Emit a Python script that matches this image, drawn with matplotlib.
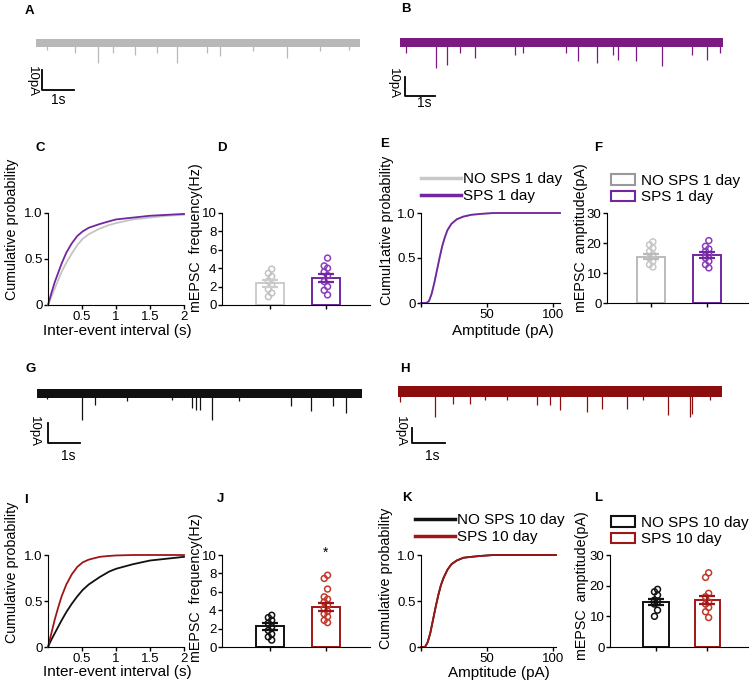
import numpy as np
import matplotlib
matplotlib.use("Agg")
import matplotlib.pyplot as plt
from matplotlib.lines import Line2D
from matplotlib.patches import Patch

plt.rcParams['font.family'] = ['Liberation Sans', 'DejaVu Sans']

W, H = 750, 695

# ---- colours
GRAY = '#c4c4c4'
PURPLE = '#7226a0'
BLACK = '#111111'
RED = '#a01616'

# ---- example traces: event times (s) and depths (pA)
trace_a_t = [0.33, 1.2, 1.92, 2.39, 3.06, 3.72, 4.34, 5.27, 5.68, 6.71, 7.74, 8.77, 9.65]
trace_a_d = [3.3, 5.0, 10.0, 5.0, 6.0, 5.0, 10.0, 5.0, 6.7, 4.0, 7.5, 4.0, 3.3]
trace_b_t = [0.2, 1.13, 1.44, 1.85, 2.31, 3.55, 3.8, 5.15, 5.5, 6.1, 6.6, 6.75, 7.3, 8.1, 9.05, 9.5, 9.9]
trace_b_d = [5.0, 12.5, 10.8, 5.0, 7.5, 6.0, 5.0, 5.0, 9.0, 10.0, 6.0, 8.3, 9.0, 11.7, 6.0, 8.3, 5.0]
trace_g_t = [0.3, 1.38, 1.79, 2.77, 4.16, 4.77, 4.88, 5.0, 5.39, 6.2, 7.8, 8.43, 9.1, 9.5]
trace_g_d = [3.0, 13.3, 5.8, 4.0, 3.3, 7.5, 8.3, 8.3, 13.3, 4.0, 6.7, 9.2, 6.7, 10.0]
trace_h_t = [0.06, 1.14, 1.71, 2.22, 2.69, 3.35, 4.28, 4.69, 5.0, 5.82, 6.29, 7.06, 7.57, 8.34, 9.0, 9.06, 9.63]
trace_h_d = [5.5, 13.0, 6.3, 6.3, 4.7, 4.7, 7.2, 7.2, 9.7, 10.5, 8.8, 8.8, 4.7, 12.2, 13.0, 11.3, 4.7]

# ---- cumulative curves (inter-event interval, s)
iei_x = [0, 0.05, 0.1, 0.15, 0.2, 0.27, 0.35, 0.43, 0.51, 0.6, 0.76, 0.9, 1.0, 1.25, 1.5, 1.75, 2.0]
iei_c_no = [0, 0.09, 0.18, 0.27, 0.36, 0.46, 0.56, 0.65, 0.72, 0.77, 0.83, 0.87, 0.89, 0.93, 0.95, 0.97, 0.98]
iei_c_sps = [0, 0.13, 0.25, 0.35, 0.45, 0.57, 0.67, 0.75, 0.80, 0.84, 0.88, 0.91, 0.93, 0.95, 0.97, 0.98, 0.99]
iei_i_no = [0, 0.08, 0.15, 0.22, 0.29, 0.38, 0.47, 0.55, 0.62, 0.68, 0.76, 0.82, 0.85, 0.90, 0.94, 0.96, 0.98]
iei_i_sps = [0, 0.15, 0.30, 0.43, 0.55, 0.68, 0.79, 0.87, 0.92, 0.95, 0.98, 0.99, 0.995, 1.0, 1.0, 1.0, 1.0]

# ---- cumulative curves (amplitude, pA)
amp_x = [0, 4, 6, 8, 10, 12, 14, 16, 18, 20, 23, 27, 32, 38, 45, 55, 70, 105]
amp_e = [0, 0, 0.02, 0.10, 0.22, 0.36, 0.50, 0.63, 0.73, 0.81, 0.88, 0.93, 0.96, 0.98, 0.99, 1.0, 1.0, 1.0]
amp_k_x = [0, 3, 5, 7, 9, 11, 13, 15, 17, 20, 23, 27, 32, 38, 45, 55, 70, 102]
amp_k = [0, 0, 0.05, 0.15, 0.29, 0.43, 0.56, 0.67, 0.75, 0.84, 0.90, 0.94, 0.97, 0.98, 0.99, 1.0, 1.0, 1.0]

# ---- bar graphs
freq1_mean = [2.36, 2.9]
freq1_sem = [0.35, 0.45]
freq1_no = [3.9, 3.45, 3.1, 2.6, 2.2, 1.7, 1.3, 0.9]
freq1_sps = [5.1, 4.25, 4.0, 3.6, 3.2, 2.55, 2.0, 1.6, 1.1]

amp1_mean = [15.5, 16.1]
amp1_sem = [0.8, 1.0]
amp1_no = [20.4, 19.4, 18.3, 17.2, 16.1, 15.0, 13.9, 12.8, 12.0]
amp1_sps = [20.8, 18.9, 18.0, 17.2, 16.1, 15.0, 13.9, 12.8, 11.7]

freq10_mean = [2.25, 4.36]
freq10_sem = [0.35, 0.45]
freq10_no = [3.45, 3.2, 2.9, 2.6, 2.2, 1.8, 1.4, 1.1, 0.75]
freq10_sps = [7.8, 7.45, 6.3, 5.45, 5.2, 4.9, 4.55, 4.2, 3.9, 3.6, 3.3, 2.9, 2.65]

amp10_mean = [14.7, 15.3]
amp10_sem = [1.0, 1.3]
amp10_no = [18.8, 18.0, 16.9, 15.3, 14.7, 14.0, 12.0, 10.0]
amp10_sps = [24.2, 22.7, 17.5, 16.4, 14.7, 14.0, 12.9, 11.5, 9.6]

fig = plt.figure(figsize=(W / 100, H / 100), dpi=100)


def px_axes(l, t, r, b):
    return fig.add_axes([l / W, 1 - b / H, (r - l) / W, (b - t) / H])


def fx(x):
    return x / W


def fy(y):
    return 1 - y / H


def draw_trace(box, ts, ds, color, band):
    ax = px_axes(*box)
    ax.fill_between([0, 10], [-band[0]] * 2, [band[1]] * 2, color=color, lw=0)
    ax.vlines(ts, [-d for d in ds], 0, color=color, lw=0.9)
    ax.set_xlim(0, 10)
    ax.set_ylim(-15, 5)
    ax.axis('off')
    return ax


draw_trace((36, 33, 360, 73), trace_a_t, trace_a_d, '#b8b8b8', (1.8, 1.8))
draw_trace((400, 33, 723, 73), trace_b_t, trace_b_d, '#7b1a80', (2.0, 2.3))
draw_trace((37, 383, 362, 423), trace_g_t, trace_g_d, BLACK, (2.4, 1.8))
draw_trace((398, 381, 722, 421), trace_h_t, trace_h_d, '#8b0d0d', (2.8, 2.6))

# overlay for scale bars, panel letters and labels (pixel coords)
ov = fig.add_axes([0, 0, 1, 1])
ov.set_xlim(0, W)
ov.set_ylim(H, 0)
ov.axis('off')
ov.patch.set_alpha(0)


def scale_bar(x, y0, y1, x1, t1, t2):
    ov.plot([x, x, x1], [y0, y1, y1], color='black', lw=1.3)
    ov.text(t1[0], t1[1], '10pA', rotation=270, ha='center', va='center', fontsize=9.5)
    ov.text(t2[0], t2[1], '1s', ha='center', va='center', fontsize=10)


scale_bar(42, 70, 90, 74, (32, 82), (58, 100))
scale_bar(405, 77, 96, 435, (393, 84), (424, 103))
scale_bar(48, 423, 443, 80, (34, 431), (68, 456))
scale_bar(412, 428, 443, 445, (400, 432), (432, 456))

letters = {'A': (29, 11), 'B': (406, 9), 'C': (40, 148), 'D': (222, 148),
           'E': (385, 144), 'F': (598, 148), 'G': (31, 369), 'H': (405, 369),
           'I': (26, 500), 'J': (220, 499), 'K': (407, 498), 'L': (598, 498)}
for k, (x, y) in letters.items():
    ov.text(x, y, k, ha='center', va='center', fontsize=9.5, fontweight='bold')


def style(ax):
    for s in ['top', 'right']:
        ax.spines[s].set_visible(False)
    ax.tick_params(direction='out', length=3, width=1, labelsize=9.5, pad=1)


def cum_panel(box, xs, curves, xlim, xticks, xlabels):
    ax = px_axes(*box)
    for y, c in curves:
        ax.plot(xs, y, color=c, lw=1.3, clip_on=False)
    ax.set_xlim(*xlim)
    ax.set_ylim(0, 1.0)
    ax.set_yticks([0, 0.5, 1.0], ['0', '0.5', '1.0'])
    ax.set_xticks(xticks, xlabels)
    style(ax)
    return ax


cum_panel((48, 213, 184, 305), iei_x, [(iei_c_no, GRAY), (iei_c_sps, PURPLE)],
          (0, 2), [0.5, 1, 1.5, 2], ['0.5', '1', '1.5', '2'])
cum_panel((48, 555, 184, 647), iei_x, [(iei_i_no, BLACK), (iei_i_sps, RED)],
          (0, 2), [0.5, 1, 1.5, 2], ['0.5', '1', '1.5', '2'])
cum_panel((421, 213, 560, 303), amp_x, [(amp_e, GRAY), (amp_e, PURPLE)],
          (0, 105), [0, 50, 100], ['', '50', '100'])
cum_panel((421, 555, 556, 647), amp_k_x, [(amp_k, BLACK), (amp_k, RED)],
          (0, 102), [0, 50, 100], ['', '50', '100'])


def bar_panel(box, xlim, means, sems, groups, colors, dot_colors, ylim, yticks):
    ax = px_axes(*box)
    pos = [1, 2]
    for p, m, s, vals, c, dc in zip(pos, means, sems, groups, colors, dot_colors):
        ax.bar(p, m, width=0.49, facecolor='white', edgecolor=c, lw=1.4, zorder=1)
        offs = [(-0.03 if i % 2 else 0.03) for i in range(len(vals))]
        ax.scatter([p + o for o in offs], vals, s=18, facecolor='none',
                   edgecolor=dc, lw=1.1, zorder=3)
        ax.errorbar(p, m, yerr=s, color=c, capsize=6, lw=1.6, capthick=1.6, zorder=4)
    ax.set_xlim(*xlim)
    ax.set_ylim(*ylim)
    ax.set_yticks(yticks)
    ax.set_xticks(pos, ['', ''])
    style(ax)
    return ax


bar_panel((222, 213, 370, 305), (0.14, 2.79), freq1_mean, freq1_sem,
          [freq1_no, freq1_sps], ['#cccccc', PURPLE], ['#c2c2c2', '#8a3cbc'],
          (0, 10), [0, 2, 4, 6, 8, 10])
bar_panel((607, 213, 748, 303), (0.21, 2.73), amp1_mean, amp1_sem,
          [amp1_no, amp1_sps], ['#bbbbbb', PURPLE], ['#c6c6c6', '#8a3cbc'],
          (0, 30), [0, 10, 20, 30])
axj = bar_panel((222, 555, 370, 647), (0.14, 2.79), freq10_mean, freq10_sem,
                [freq10_no, freq10_sps], [BLACK, RED], [BLACK, '#c0392b'],
                (0, 10), [0, 2, 4, 6, 8, 10])
axj.text(2, 10.2, '*', ha='center', va='center', fontsize=10, clip_on=False)
bar_panel((610, 555, 748, 647), (0.1, 2.8), amp10_mean, amp10_sem,
          [amp10_no, amp10_sps], [BLACK, RED], [BLACK, '#c0392b'],
          (0, 30), [0, 10, 20, 30])

# ---- axis labels
ylabels = [(12, 229, 'Cumulative probability'), (196, 238, 'mEPSC  frequency(Hz)'),
           (387, 230, 'Cumul1ative probability'), (581, 238, 'mEPSC  amptitude(pA)'),
           (12, 572, 'Cumulative probability'), (196, 588, 'mEPSC  frequency(Hz)'),
           (386, 578, 'Cumulative probability'), (582, 586, 'mEPSC  amptitude(pA)')]
for x, y, s in ylabels:
    ov.text(x, y, s, rotation=90, ha='center', va='center', fontsize=10.3)

xlabels = [(117, 331, 'Inter-event interval (s)'), (503, 331, 'Amptitude (pA)'),
           (117, 672, 'Inter-event interval (s)'), (499, 673, 'Amptitude (pA)')]
for x, y, s in xlabels:
    ov.text(x, y, s, ha='center', va='center', fontsize=11)


# ---- legends
def line_legend(x, y, labels, colors):
    h = [Line2D([], [], color=c, lw=2.5) for c in colors]
    fig.legend(h, labels, loc='upper left', bbox_to_anchor=(fx(x), fy(y)),
               frameon=False, fontsize=11, handlelength=2.6, handletextpad=0.15,
               labelspacing=0.2, borderpad=0, borderaxespad=0)


def box_legend(x, y, labels, colors):
    h = [Patch(facecolor='white', edgecolor=c, lw=1.5) for c in colors]
    fig.legend(h, labels, loc='upper left', bbox_to_anchor=(fx(x), fy(y)),
               frameon=False, fontsize=11, handlelength=1.6, handleheight=0.7,
               handletextpad=0.35, labelspacing=0.15, borderpad=0, borderaxespad=0)


line_legend(421, 172, ['NO SPS 1 day', 'SPS 1 day'], ['#c8c8c8', PURPLE])
box_legend(611, 174, ['NO SPS 1 day', 'SPS 1 day'], ['#999999', PURPLE])
line_legend(415, 513, ['NO SPS 10 day', 'SPS 10 day'], [BLACK, RED])
box_legend(611, 516, ['NO SPS 10 day', 'SPS 10 day'], [BLACK, RED])

fig.savefig('out.png', dpi=100)
